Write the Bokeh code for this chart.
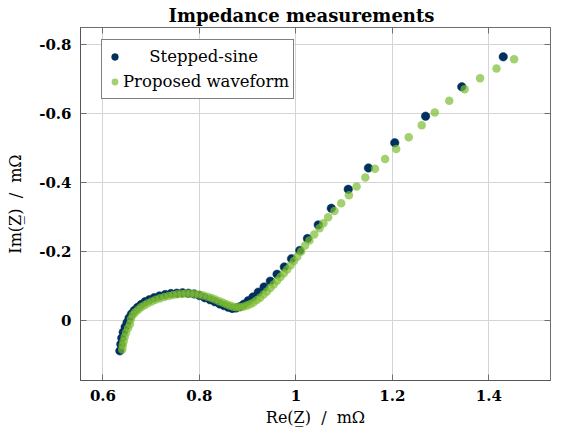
from bokeh.plotting import figure
from bokeh.models import Range1d, FixedTicker, LinearAxis, Legend, LegendItem
from bokeh.embed import file_html
from bokeh.resources import INLINE

NB = "\u00a0"
title_text = "Impedance measurements"
x_label = "Re(Z\u0332)" + NB * 2 + "/" + NB * 2 + "m\u03a9"
y_label = "Im(Z\u0332)" + NB * 2 + "/" + NB * 2 + "m\u03a9"
x_ticks = [0.6, 0.8, 1.0, 1.2, 1.4]
x_tick_labels = ["0.6", "0.8", "1", "1.2", "1.4"]
y_ticks = [-0.8, -0.6, -0.4, -0.2, 0.0]
y_tick_labels = ["-0.8", "-0.6", "-0.4", "-0.2", "0"]
series_names = ["Stepped-sine", "Proposed waveform"]

stepped_re = [1.430, 1.344, 1.269, 1.205, 1.1505, 1.1086, 1.0735, 1.0464, 1.024, 1.008,
              0.991, 0.976, 0.961, 0.947, 0.934, 0.922, 0.911, 0.901, 0.892, 0.884,
              0.876, 0.868, 0.860, 0.851, 0.842, 0.832, 0.822, 0.811, 0.800, 0.789,
              0.777, 0.765, 0.753, 0.741, 0.729, 0.717, 0.706, 0.696, 0.687, 0.679,
              0.672, 0.665, 0.659, 0.654, 0.650, 0.646, 0.642, 0.639, 0.637, 0.635]
stepped_im = [-0.764, -0.677, -0.592, -0.515, -0.442, -0.380, -0.325, -0.277, -0.2375, -0.203,
              -0.179, -0.155, -0.134, -0.114, -0.097, -0.082, -0.068, -0.057, -0.047, -0.040,
              -0.036, -0.035, -0.038, -0.043, -0.048, -0.054, -0.060, -0.066, -0.072, -0.077,
              -0.079, -0.080, -0.079, -0.078, -0.075, -0.071, -0.066, -0.060, -0.054, -0.046,
              -0.038, -0.029, -0.019, -0.007, 0.006, 0.019, 0.034, 0.051, 0.069, 0.088]

proposed_re = [1.4525, 1.416, 1.382, 1.350, 1.318, 1.288, 1.261, 1.234, 1.208, 1.185,
               1.164, 1.144, 1.126, 1.110, 1.094, 1.080, 1.067, 1.057, 1.049, 1.038,
               1.028, 1.019, 1.011, 1.003, 0.996, 0.989, 0.982, 0.975, 0.968, 0.961,
               0.954, 0.947, 0.940, 0.933, 0.926, 0.919, 0.912, 0.905, 0.898, 0.891,
               0.884, 0.877, 0.870, 0.863, 0.856, 0.849, 0.841, 0.833, 0.825, 0.817,
               0.808, 0.799, 0.790, 0.781, 0.772, 0.763, 0.754, 0.745, 0.736, 0.727,
               0.718, 0.709, 0.701, 0.693, 0.686, 0.679, 0.673, 0.667, 0.662, 0.658,
               0.656, 0.652, 0.648, 0.645, 0.643, 0.641, 0.640]
proposed_im = [-0.757, -0.730, -0.702, -0.670, -0.637, -0.603, -0.566, -0.531, -0.497, -0.468,
               -0.440, -0.414, -0.388, -0.363, -0.340, -0.317, -0.299, -0.282, -0.267, -0.249,
               -0.232, -0.217, -0.200, -0.185, -0.172, -0.160, -0.148, -0.137, -0.126, -0.115,
               -0.104, -0.094, -0.084, -0.075, -0.066, -0.059, -0.052, -0.047, -0.043, -0.040,
               -0.038, -0.038, -0.040, -0.043, -0.047, -0.051, -0.056, -0.061, -0.065, -0.069,
               -0.072, -0.075, -0.077, -0.078, -0.078, -0.077, -0.076, -0.074, -0.071, -0.068,
               -0.064, -0.060, -0.055, -0.050, -0.044, -0.038, -0.031, -0.024, -0.016, -0.004,
               0.010, 0.022, 0.035, 0.048, 0.060, 0.072, 0.084]

SERIF = "DejaVu Serif"
GRID = "#d4d4d4"
AXIS = "#6e6e6e"

p = figure(width=552, height=429, output_backend="svg", toolbar_location=None,
           x_range=Range1d(0.5534, 1.528), y_range=Range1d(0.174, -0.849),
           min_border_left=80, min_border_right=2, min_border_top=27, min_border_bottom=48)

p.title.text = title_text
p.title.text_font = SERIF
p.title.text_font_size = "18px"
p.title.text_font_style = "bold"
p.title.text_color = "black"
p.title.align = "left"
p.title.offset = 88
p.title.standoff = 4

p.background_fill_color = "white"
p.border_fill_color = "white"
p.outline_line_color = AXIS
p.outline_line_width = 1

xticker = FixedTicker(ticks=x_ticks)
yticker = FixedTicker(ticks=y_ticks)

for ax, ticker, labels, ticks in ((p.xaxis[0], xticker, x_tick_labels, x_ticks),
                                  (p.yaxis[0], yticker, y_tick_labels, y_ticks)):
    ax.ticker = ticker
    ax.major_label_overrides = {t: l for t, l in zip(ticks, labels)}
    ax.major_label_text_font = SERIF
    ax.major_label_text_font_size = "15px"
    ax.major_label_text_font_style = "bold"
    ax.major_label_text_color = "black"
    ax.axis_label_text_font = SERIF
    ax.axis_label_text_font_size = "16px"
    ax.axis_label_text_font_style = "normal"
    ax.axis_label_text_color = "black"
    ax.major_tick_in = 6
    ax.major_tick_out = 0
    ax.major_tick_line_color = AXIS
    ax.minor_tick_line_color = None
    ax.axis_line_color = "#555555"
    ax.major_label_standoff = 9

p.xaxis[0].axis_label = x_label
p.yaxis[0].axis_label = y_label
p.xaxis[0].axis_label_standoff = 4
p.yaxis[0].axis_label_standoff = 11
p.yaxis[0].major_label_orientation = "horizontal"

for loc, ticker in (("above", xticker), ("right", yticker)):
    ax = LinearAxis(ticker=ticker, major_label_text_font_size="1px", major_label_text_color=None,
                    major_label_standoff=0,
                    major_tick_in=6, major_tick_out=0, major_tick_line_color=AXIS,
                    minor_tick_line_color=None, axis_line_color=AXIS)
    p.add_layout(ax, loc)

p.xgrid.ticker = xticker
p.ygrid.ticker = yticker
p.xgrid.grid_line_color = GRID
p.ygrid.grid_line_color = GRID

r1 = p.scatter(stepped_re, stepped_im, size=8.5, fill_color="#00305e", line_color="#00305e",
               line_width=0.5)
r2 = p.scatter(proposed_re, proposed_im, size=8.5, fill_color="#7dbe32", fill_alpha=0.7,
               line_color=None)

legend = Legend(items=[LegendItem(label=NB * 5 + series_names[0], renderers=[r1]),
                       LegendItem(label=series_names[1], renderers=[r2])],
                location=(21, 281), margin=0, padding=4, spacing=0,
                glyph_width=17, glyph_height=25, label_height=25, label_standoff=0,
                label_text_font=SERIF, label_text_font_size="16.5px",
                label_text_color="black",
                border_line_color="black", border_line_width=1,
                background_fill_color="white", background_fill_alpha=1)
p.add_layout(legend)

open("out.html", "w").write(file_html(p, INLINE))
